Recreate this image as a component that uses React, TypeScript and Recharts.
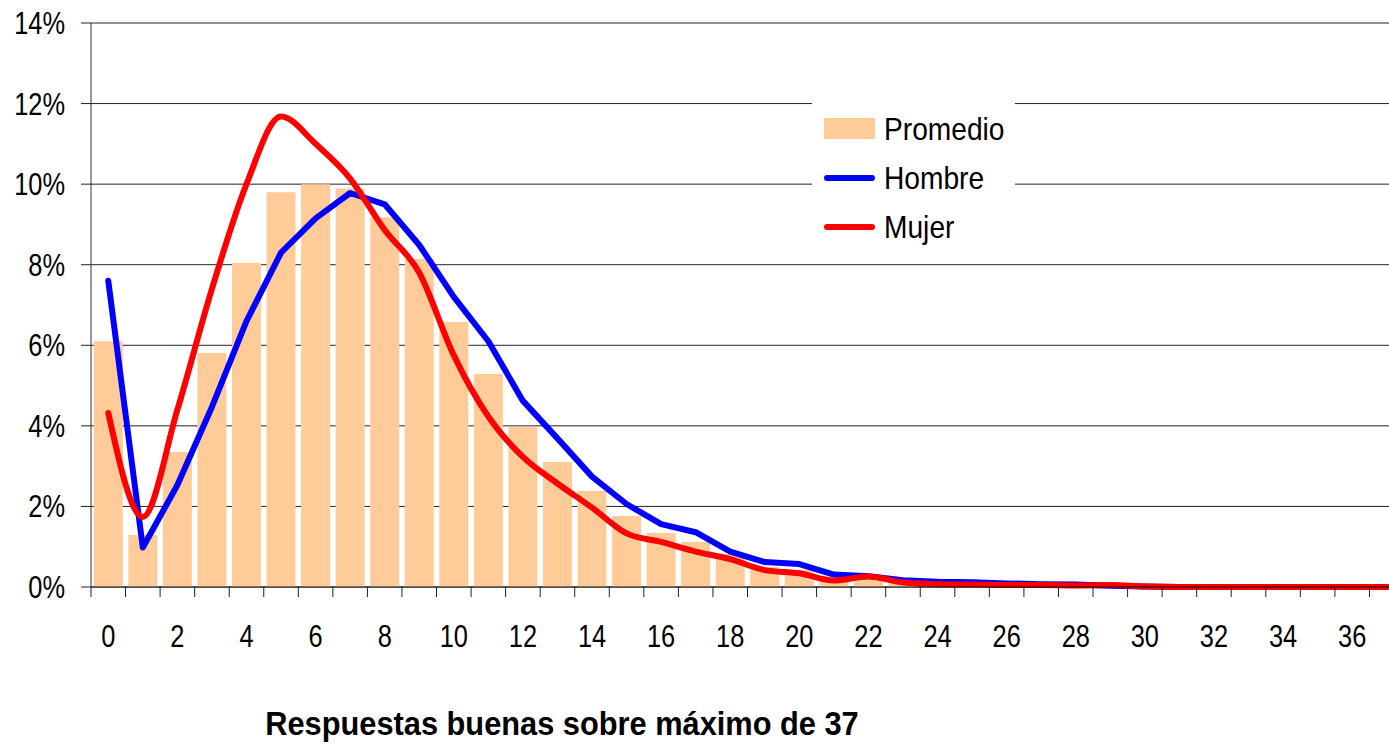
import React from 'react';
import { ComposedChart, Bar, Line, XAxis, YAxis, CartesianGrid, Legend } from 'recharts';

const categories = [
  0, 1, 2, 3, 4, 5, 6, 7, 8, 9, 10, 11, 12, 13, 14, 15, 16, 17, 18, 19,
  20, 21, 22, 23, 24, 25, 26, 27, 28, 29, 30, 31, 32, 33, 34, 35, 36, 37,
];

const promedio = [
  6.1, 1.29, 3.35, 5.81, 8.04, 9.8, 10.0, 9.89, 9.18, 8.14, 6.58, 5.29, 3.98, 3.1, 2.38, 1.76, 1.34, 1.12, 0.81, 0.5,
  0.42, 0.2, 0.28, 0.1, 0.05, 0.05, 0.04, 0.04, 0.03, 0.03, 0.01, 0, 0, 0, 0, 0, 0, 0,
];

const hombre = [
  7.6, 0.98, 2.53, 4.47, 6.6, 8.3, 9.15, 9.78, 9.5, 8.49, 7.2, 6.1, 4.62, 3.69, 2.74, 2.06, 1.56, 1.36, 0.88, 0.62,
  0.57, 0.31, 0.27, 0.17, 0.13, 0.12, 0.09, 0.07, 0.06, 0.03, 0.01, 0, 0, 0, 0, 0, 0, 0,
];

const mujer = [
  4.32, 1.74, 4.4, 7.4, 10.0, 11.68, 11.0, 10.14, 8.86, 7.8, 5.75, 4.23, 3.23, 2.57, 1.97, 1.33, 1.12, 0.88, 0.69, 0.42,
  0.34, 0.16, 0.26, 0.11, 0.07, 0.06, 0.05, 0.05, 0.04, 0.05, 0.01, 0, 0, 0, 0, 0, 0, 0,
];

const yTicks = [0, 2, 4, 6, 8, 10, 12, 14];
const legendItems = [
  { name: 'Promedio', color: '#FFCC99', kind: 'rect' },
  { name: 'Hombre', color: '#0000FF', kind: 'line' },
  { name: 'Mujer', color: '#FF0000', kind: 'line' },
];
const xTitle = 'Respuestas buenas sobre máximo de 37';

const data = categories.map((c, i) => ({
  x: c,
  promedio: promedio[i],
  hombre: hombre[i],
  mujer: mujer[i],
}));

const FONT = "'Liberation Sans', Arial, sans-serif";
const NARROW = 0.82;
const TICK_SIZE = 10;
const X_TICK_MARGIN = 28;

const BottomTick = (props: any) => {
  const { x, y, payload, index } = props;
  const half = payload && typeof payload.offset === 'number' ? payload.offset : 0;
  const axisY = y - TICK_SIZE - X_TICK_MARGIN;
  const bx = x - half;
  return (
    <g>
      <line x1={bx} x2={bx} y1={axisY} y2={axisY + TICK_SIZE} stroke="#222" strokeWidth={1} />
      {index % 2 === 0 ? (
        <text
          transform={`translate(${x},${y}) scale(${NARROW},1)`}
          x={0}
          y={0}
          dy="0.71em"
          textAnchor="middle"
          fill="#000"
          fontSize={31}
          fontFamily={FONT}
        >
          {payload.value}
        </text>
      ) : null}
    </g>
  );
};

const LeftTick = (props: any) => {
  const { x, y, payload } = props;
  return (
    <text
      transform={`translate(${x},${y}) scale(${NARROW},1)`}
      x={0}
      y={0}
      dy="0.355em"
      textAnchor="end"
      fill="#000"
      fontSize={31}
      fontFamily={FONT}
    >
      {`${payload.value}%`}
    </text>
  );
};

const LegendContent = () => {
  return (
    <div style={{ position: 'relative', width: 203, height: 158, background: '#fff' }}>
      {legendItems.map((p, i) => {
        const cy = 32 + i * 49;
        return (
          <div key={p.name}>
            {p.kind === 'rect' ? (
              <div style={{ position: 'absolute', left: 12, top: cy - 11, width: 51, height: 21, background: p.color }} />
            ) : (
              <div style={{ position: 'absolute', left: 12, top: cy - 3, width: 51, height: 6, borderRadius: 3, background: p.color }} />
            )}
            <div
              style={{
                position: 'absolute',
                left: 72,
                top: cy - 20,
                height: 40,
                lineHeight: '40px',
                fontSize: 32,
                fontFamily: FONT,
                color: '#000',
                whiteSpace: 'nowrap',
                transform: 'scaleX(0.88)',
                transformOrigin: '0 50%',
              }}
            >
              {p.name}
            </div>
          </div>
        );
      })}
    </div>
  );
};

export default function App() {
  return (
    <div style={{ position: 'absolute', left: 0, top: 0, width: 1389, height: 744, overflow: 'hidden', background: '#fff' }}>
      <ComposedChart
        width={1404}
        height={744}
        data={data}
        margin={{ top: 23, right: 0, bottom: 0, left: 0 }}
        barCategoryGap="8%"
      >
        <CartesianGrid horizontal vertical={false} stroke="#222" strokeWidth={1} />
        <XAxis
          dataKey="x"
          type="category"
          height={157}
          interval={0}
          tickLine={false}
          tickSize={TICK_SIZE}
          tickMargin={X_TICK_MARGIN}
          axisLine={{ stroke: '#111', strokeWidth: 1 }}
          tick={<BottomTick />}
        />
        <YAxis
          width={91}
          domain={[0, 14]}
          ticks={yTicks}
          interval={0}
          tickSize={TICK_SIZE}
          tickMargin={16}
          tickLine={{ stroke: '#222' }}
          axisLine={{ stroke: '#333' }}
          tick={<LeftTick />}
        />
        <Legend
          layout="horizontal"
          verticalAlign="middle"
          align="center"
          wrapperStyle={{ position: 'absolute', left: 812, top: 97, width: 203, height: 158 }}
          content={<LegendContent />}
        />
        <Bar dataKey="promedio" name="Promedio" fill="#FFCC99" isAnimationActive={false} legendType="rect" />
        <Line
          dataKey="hombre"
          name="Hombre"
          type="linear"
          stroke="#0000FF"
          strokeWidth={6}
          dot={false}
          strokeLinecap="round"
          strokeLinejoin="round"
          isAnimationActive={false}
          legendType="line"
        />
        <Line
          dataKey="mujer"
          name="Mujer"
          type="monotone"
          stroke="#FF0000"
          strokeWidth={6}
          dot={false}
          strokeLinecap="round"
          strokeLinejoin="round"
          isAnimationActive={false}
          legendType="line"
        />
      </ComposedChart>
      <div
        style={{
          position: 'absolute',
          left: 162,
          top: 706,
          width: 800,
          textAlign: 'center',
          fontFamily: FONT,
          fontWeight: 'bold',
          fontSize: 34,
          lineHeight: '34px',
          color: '#000',
          whiteSpace: 'nowrap',
          transform: 'scaleX(0.905)',
          transformOrigin: '400px 50%',
        }}
      >
        {xTitle}
      </div>
    </div>
  );
}
